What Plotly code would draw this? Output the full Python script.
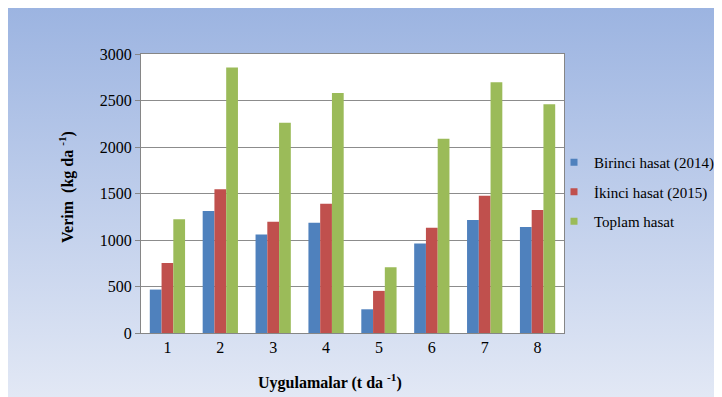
import base64
import plotly.graph_objects as go

categories = ["1", "2", "3", "4", "5", "6", "7", "8"]
birinci = [467, 1311, 1060, 1186, 255, 963, 1214, 1139]
ikinci = [754, 1545, 1196, 1390, 453, 1132, 1477, 1322]
toplam = [1222, 2856, 2260, 2580, 708, 2088, 2695, 2461]
series_names = ["Birinci hasat (2014)", "İkinci hasat (2015)", "Toplam hasat"]
y_ticks = [0, 500, 1000, 1500, 2000, 2500, 3000]

colors = ["#4F81BD", "#C0504D", "#9BBB59"]
FONT = "Liberation Serif, Times New Roman, serif"

# the page body adds an 8px offset; work in figure coordinates
OFF = 8
W, H = 722 - OFF, 397 - OFF
L, T = 141 - OFF, 54 - OFF
R = W - (564 - OFF)
B = H - (333 - OFF)
pw, ph = W - L - R, H - T - B

def px(x):  # reference x pixel -> paper coord
    return (x - OFF - L) / pw

def py(y):  # reference y pixel -> paper coord
    return (H - B - (y - OFF)) / ph

svg = f'''<svg xmlns="http://www.w3.org/2000/svg" width="{W}" height="{H}" viewBox="0 0 {W} {H}" preserveAspectRatio="none">
<defs><linearGradient id="g" x1="0" y1="0" x2="0" y2="1">
<stop offset="0" stop-color="#9CB4E1"/><stop offset="1" stop-color="#E2E8F5"/></linearGradient></defs>
<rect x="0" y="0" width="{W}" height="{H}" fill="url(#g)"/>
<rect x="{L}" y="{T}" width="{pw}" height="{ph}" fill="#FFFFFF"/>
</svg>'''
uri = "data:image/svg+xml;base64," + base64.b64encode(svg.encode()).decode()

fig = go.Figure()
for name, vals, c in zip(series_names, [birinci, ikinci, toplam], colors):
    fig.add_trace(go.Bar(x=categories, y=vals, name=name, marker_color=c,
                         marker_line_width=0, showlegend=False, legendgroup=name))
for name, c in zip(series_names, colors):
    fig.add_trace(go.Scatter(x=[None], y=[None], mode="markers", name=name,
                             marker=dict(symbol="square", size=7, color=c),
                             legendgroup=name, showlegend=True))

fig.add_layout_image(dict(source=uri, xref="paper", yref="paper",
                          x=-L / pw, y=(H - B) / ph,
                          sizex=W / pw, sizey=H / ph, xanchor="left", yanchor="top",
                          sizing="stretch", layer="below"))

fig.update_layout(
    width=W, height=H,
    margin=dict(l=L, r=R, t=T, b=B, pad=0, autoexpand=False),
    paper_bgcolor="#FFFFFF", plot_bgcolor="rgba(0,0,0,0)",
    barmode="group", bargap=0.333, bargroupgap=0,
    font=dict(family=FONT, size=16, color="#000000"),
    showlegend=True,
    legend=dict(x=px(594 - 40), y=py(146), xanchor="left", yanchor="top",
                bgcolor="rgba(0,0,0,0)", font=dict(family=FONT, size=15, color="#000000"),
                traceorder="grouped", tracegroupgap=7, itemwidth=30),
    xaxis=dict(showgrid=False, showline=True, linecolor="#868686", linewidth=1,
               mirror=True, ticks="", tickfont=dict(family=FONT, size=16)),
    yaxis=dict(range=[0, 3000], tickvals=y_ticks, showgrid=True, gridcolor="#8C8C8C",
               gridwidth=1, showline=True, linecolor="#868686", linewidth=1, mirror=True,
               ticks="outside", ticklen=5, tickcolor="#868686",
               tickfont=dict(family=FONT, size=16), zeroline=False),
    annotations=[
        dict(text="<b>Uygulamalar (t da <sup>-1</sup>)</b>", xref="paper", yref="paper",
             x=px(330), y=py(381), showarrow=False,
             xanchor="center", yanchor="middle", font=dict(family=FONT, size=16)),
        dict(text="<b>Verim  (kg da <sup>-1</sup>)</b>", xref="paper", yref="paper",
             x=px(67), y=py(187), showarrow=False, textangle=-90,
             xanchor="center", yanchor="middle", font=dict(family=FONT, size=16)),
    ],
)

fig.write_html("out.html")
